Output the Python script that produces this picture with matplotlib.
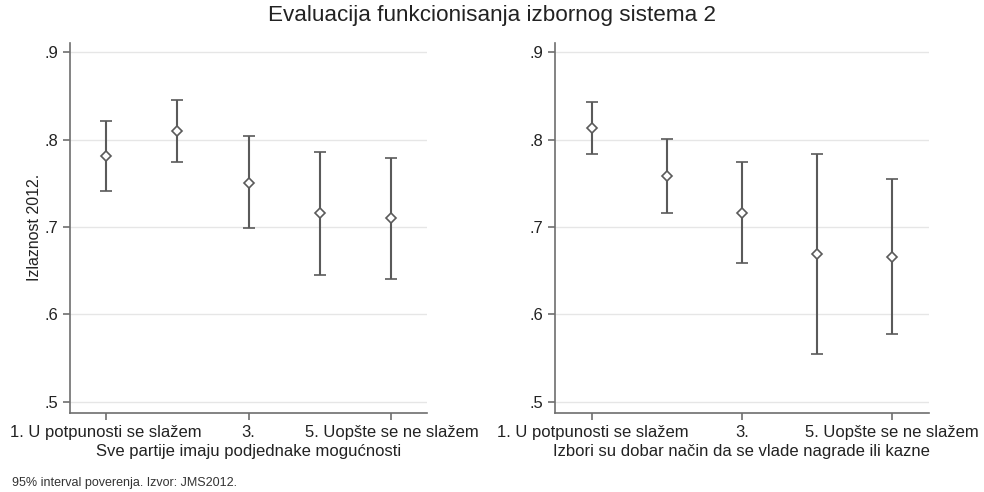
import numpy as np
import matplotlib
matplotlib.use("Agg")
import matplotlib.pyplot as plt

plt.rcParams['font.family'] = ['Liberation Sans', 'DejaVu Sans']

categories = [1, 2, 3, 4, 5]
tick_pos = [1, 3, 5]
tick_labels = ["1. U potpunosti se slažem", "3.", "5. Uopšte se ne slažem"]

# left panel: Sve partije imaju podjednake mogucnosti
left_mean = [0.781, 0.810, 0.751, 0.716, 0.710]
left_lo = [0.741, 0.774, 0.699, 0.645, 0.641]
left_hi = [0.822, 0.846, 0.804, 0.786, 0.779]

# right panel: Izbori su dobar nacin...
right_mean = [0.813, 0.758, 0.716, 0.669, 0.666]
right_lo = [0.784, 0.716, 0.659, 0.555, 0.578]
right_hi = [0.843, 0.801, 0.774, 0.784, 0.755]

xlabels = ["Sve partije imaju podjednake mogućnosti",
           "Izbori su dobar način da se vlade nagrade ili kazne"]
yticks = [0.5, 0.6, 0.7, 0.8, 0.9]
ytick_labels = [".5", ".6", ".7", ".8", ".9"]

col = "#5a5a5a"
txt = "#222222"
fig = plt.figure(figsize=(9.84, 4.92), dpi=100)
ax1 = fig.add_axes([0.0711, 0.161, 0.363, 0.752])
ax2 = fig.add_axes([0.564, 0.161, 0.380, 0.752])

panels = [(ax1, left_mean, left_lo, left_hi, xlabels[0]),
          (ax2, right_mean, right_lo, right_hi, xlabels[1])]
for ax, m, lo, hi, xl in panels:
    m = np.array(m)
    err = [m - np.array(lo), np.array(hi) - m]
    ax.errorbar(categories, m, yerr=err, fmt="D", color=col, ecolor=col,
                mfc="white", mec=col, ms=5, mew=1.2, elinewidth=1.5,
                capsize=4, capthick=1.5, zorder=3)
    ax.set_xlim(0.5, 5.5)
    ax.set_ylim(0.4874, 0.911)
    ax.set_yticks(yticks)
    ax.set_yticklabels(ytick_labels)
    ax.set_xticks(tick_pos)
    ax.set_xticklabels(tick_labels)
    ax.grid(axis="y", color="#e6e6e6", linewidth=1)
    ax.set_axisbelow(True)
    for s in ["top", "right"]:
        ax.spines[s].set_visible(False)
    for s in ["left", "bottom"]:
        ax.spines[s].set_color("#6e6e6e")
        ax.spines[s].set_linewidth(1.2)
    ax.tick_params(axis="both", colors="#6e6e6e", labelcolor=txt,
                   labelsize=12, length=5, width=1.2)
    ax.set_xlabel(xl, fontsize=12, color=txt, labelpad=3)

ax1.set_ylabel("Izlaznost 2012.", fontsize=11.5, color=txt, labelpad=2)

fig.suptitle("Evaluacija funkcionisanja izbornog sistema 2", fontsize=16.2,
             y=0.99, color=txt)
fig.text(0.012, 0.013, "95% interval poverenja. Izvor: JMS2012.",
         fontsize=9, color="#333333")

fig.savefig("out.png", dpi=100)
